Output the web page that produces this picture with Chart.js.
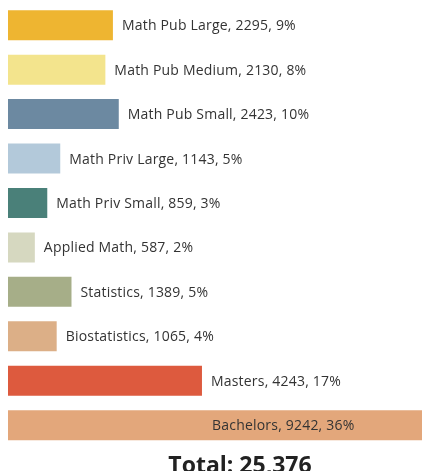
<!DOCTYPE html>
<html><head><meta charset="utf-8">
<script src="https://cdn.jsdelivr.net/npm/chart.js@4/dist/chart.umd.min.js"></script>
<style>html,body{margin:0;padding:0;overflow:hidden;background:#fff;width:422px;height:471px}#wrap{width:480px;height:480px}</style>
</head><body><div id="wrap"><canvas id="c" width="480" height="480"></canvas></div>
<script>
const categories = ["Math Pub Large","Math Pub Medium","Math Pub Small","Math Priv Large","Math Priv Small","Applied Math","Statistics","Biostatistics","Masters","Bachelors"];
const counts = [2295,2130,2423,1143,859,587,1389,1065,4243,9242];
const percents = [9,8,10,5,3,2,5,4,17,36];
const colors = ["#EEB531","#F3E48D","#6C89A1","#B3C9DA","#4A8079","#D6D8C0","#A6AE88","#DCAF87","#DD5A3E","#E3A77B"];
const totalLabel = "Total: 25,376";
const xMax = 10150;

const labelPlugin = {
  id: 'barLabels',
  afterDatasetsDraw(chart) {
    const ctx = chart.ctx;
    const meta = chart.getDatasetMeta(0);
    const area = chart.chartArea;
    ctx.save();
    ctx.font = '14px "Open Sans", sans-serif';
    try { ctx.letterSpacing = '0.2px'; } catch (e) {}
    ctx.fillStyle = '#333333';
    ctx.textBaseline = 'middle';
    ctx.textAlign = 'left';
    meta.data.forEach((bar, i) => {
      const txt = categories[i] + ', ' + counts[i] + ', ' + percents[i] + '%';
      const w = ctx.measureText(txt).width;
      let x = bar.x + 9;
      if (x + w > 422) x = area.left + 204;
      ctx.fillText(txt, x, bar.y + 1);
    });
    ctx.restore();
  }
};

new Chart(document.getElementById('c'), {
  type: 'bar',
  data: { labels: categories, datasets: [{ data: counts, backgroundColor: colors, barPercentage: 0.675, categoryPercentage: 1 }] },
  options: {
    indexAxis: 'y', responsive: false, animation: false,
    layout: { padding: { left: 8, right: 8, top: 3, bottom: 0 } },
    scales: {
      x: { display: false, min: 0, max: xMax },
      y: { display: false }
    },
    plugins: {
      legend: { display: false }, tooltip: { enabled: false },
      title: { display: true, position: 'bottom', text: totalLabel, color: '#222222',
        font: { size: 23, weight: 'bold', family: '"Open Sans", sans-serif' }, padding: { top: 5, bottom: 0 } }
    }
  },
  plugins: [labelPlugin]
});
</script></body></html>
